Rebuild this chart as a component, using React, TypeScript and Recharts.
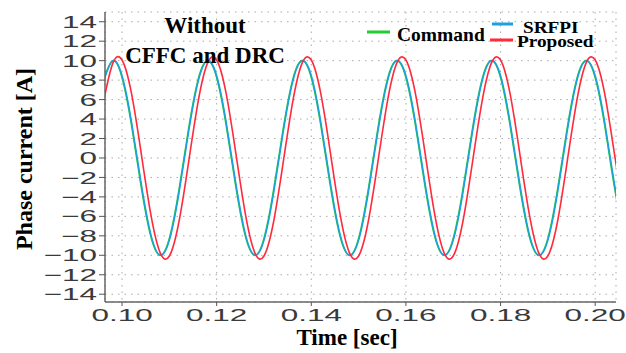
import React from "react";
import { LineChart, Line, XAxis, YAxis, CartesianGrid } from "recharts";

// sample times [s], every 2 ms
const time = [
  0.096, 0.098, 0.1, 0.102, 0.104, 0.106, 0.108, 0.11, 0.112, 0.114,
  0.116, 0.118, 0.12, 0.122, 0.124, 0.126, 0.128, 0.13, 0.132, 0.134,
  0.136, 0.138, 0.14, 0.142, 0.144, 0.146, 0.148, 0.15, 0.152, 0.154,
  0.156, 0.158, 0.16, 0.162, 0.164, 0.166, 0.168, 0.17, 0.172, 0.174,
  0.176, 0.178, 0.18, 0.182, 0.184, 0.186, 0.188, 0.19, 0.192, 0.194,
  0.196, 0.198, 0.2, 0.202, 0.204, 0.206,
];

// phase current [A]
const command = [
  7.9, 10.0, 8.27, 3.39, -2.79, -7.9, -10.0, -8.27, -3.39, 2.79,
  7.9, 10.0, 8.27, 3.39, -2.79, -7.9, -10.0, -8.27, -3.39, 2.79,
  7.9, 10.0, 8.27, 3.39, -2.79, -7.9, -10.0, -8.27, -3.39, 2.79,
  7.9, 10.0, 8.27, 3.39, -2.79, -7.9, -10.0, -8.27, -3.39, 2.79,
  7.9, 10.0, 8.27, 3.39, -2.79, -7.9, -10.0, -8.27, -3.39, 2.79,
  7.9, 10.0, 8.27, 3.39, -2.79, -7.9,
];

const srfpi = [
  7.7, 9.98, 8.44, 3.68, -2.49, -7.7, -9.98, -8.44, -3.68, 2.49,
  7.7, 9.98, 8.44, 3.68, -2.49, -7.7, -9.98, -8.44, -3.68, 2.49,
  7.7, 9.98, 8.44, 3.68, -2.49, -7.7, -9.98, -8.44, -3.68, 2.49,
  7.7, 9.98, 8.44, 3.68, -2.49, -7.7, -9.98, -8.44, -3.68, 2.49,
  7.7, 9.98, 8.44, 3.68, -2.49, -7.7, -9.98, -8.44, -3.68, 2.49,
  7.7, 9.98, 8.44, 3.68, -2.49, -7.7,
];

const proposed = [
  5.57, 9.67, 10.07, 6.63, 0.65, -5.57, -9.67, -10.07, -6.63, -0.65,
  5.57, 9.67, 10.07, 6.63, 0.65, -5.57, -9.67, -10.07, -6.63, -0.65,
  5.57, 9.67, 10.07, 6.63, 0.65, -5.57, -9.67, -10.07, -6.63, -0.65,
  5.57, 9.67, 10.07, 6.63, 0.65, -5.57, -9.67, -10.07, -6.63, -0.65,
  5.57, 9.67, 10.07, 6.63, 0.65, -5.57, -9.67, -10.07, -6.63, -0.65,
  5.57, 9.67, 10.07, 6.63, 0.65, -5.57,
];

const xTicks = [0.1, 0.12, 0.14, 0.16, 0.18, 0.2];
const yTicks = [-14, -12, -10, -8, -6, -4, -2, 0, 2, 4, 6, 8, 10, 12, 14];

const data = time.map((t, i) => ({
  t,
  command: command[i],
  srfpi: srfpi[i],
  proposed: proposed[i],
}));

const COLORS = { command: "#22cc33", srfpi: "#1e9fe0", proposed: "#ff2a3c" };
const serif = "'Liberation Serif', 'Times New Roman', serif";
const sans = "'Liberation Sans', Arial, sans-serif";

const fmtY = (v: number) => (v < 0 ? "\u2212" + Math.abs(v) : String(v));

const YTick = (props: any) => {
  const { x, y, payload } = props;
  return (
    <text
      transform={`translate(${x},${y}) scale(1.85,1)`}
      textAnchor="end"
      dy="0.36em"
      fontSize={17}
      fontFamily={sans}
      fill="#3a3a3a"
    >
      {fmtY(payload.value)}
    </text>
  );
};

const XTick = (props: any) => {
  const { x, y, payload } = props;
  return (
    <text
      transform={`translate(${x},${y}) scale(1.85,1)`}
      textAnchor="middle"
      dy={13}
      fontSize={17}
      fontFamily={sans}
      fill="#3a3a3a"
    >
      {Number(payload.value).toFixed(2)}
    </text>
  );
};

export default function App() {
  return (
    <div
      style={{
        position: "absolute",
        left: 0,
        top: 0,
        width: 626,
        height: 353,
        background: "#fff",
      }}
    >
      <LineChart
        width={626}
        height={353}
        data={data}
        margin={{ top: 12, right: 10, bottom: 21, left: 0 }}
      >
        <CartesianGrid stroke="#aaa" strokeDasharray="1.5 5" />
        <XAxis
          dataKey="t"
          type="number"
          domain={[0.0964, 0.2044]}
          ticks={xTicks}
          interval={0}
          allowDataOverflow
          height={30}
          tickSize={4}
          tick={<XTick />}
          axisLine={{ stroke: "#666", strokeWidth: 1.5 }}
          tickLine={{ stroke: "#555" }}
        />
        <XAxis
          xAxisId="top"
          orientation="top"
          dataKey="t"
          type="number"
          domain={[0.0964, 0.2044]}
          allowDataOverflow
          height={0}
          tick={false}
          tickLine={false}
          axisLine={{ stroke: "#999" }}
        />
        <YAxis
          type="number"
          domain={[-14.8, 15]}
          ticks={yTicks}
          interval={0}
          allowDataOverflow
          width={105}
          tickSize={6}
          tick={<YTick />}
          axisLine={{ stroke: "#666", strokeWidth: 1.5 }}
          tickLine={{ stroke: "#555" }}
        />
        <YAxis
          yAxisId="right"
          orientation="right"
          type="number"
          domain={[-14.8, 15]}
          allowDataOverflow
          width={0}
          tick={false}
          tickLine={false}
          axisLine={{ stroke: "#999" }}
        />
        <Line
          dataKey="command"
          type="natural"
          stroke={COLORS.command}
          strokeWidth={1.6}
          dot={false}
          isAnimationActive={false}
        />
        <Line
          dataKey="srfpi"
          type="natural"
          stroke={COLORS.srfpi}
          strokeWidth={1.6}
          dot={false}
          isAnimationActive={false}
        />
        <Line
          dataKey="proposed"
          type="natural"
          stroke={COLORS.proposed}
          strokeWidth={1.6}
          dot={false}
          isAnimationActive={false}
        />
      </LineChart>

      {/* annotations, axis titles and legend */}
      <svg
        width={626}
        height={353}
        style={{ position: "absolute", left: 0, top: 0, pointerEvents: "none" }}
      >
        <g fontFamily={serif} fontWeight="bold" fill="#000">
          <text x={205} y={33} fontSize={23} textAnchor="middle">
            Without
          </text>
          <text x={205} y={63} fontSize={23} textAnchor="middle">
            CFFC and DRC
          </text>
          <text x={347} y={345} fontSize={23} textAnchor="middle">
            Time [sec]
          </text>
          <text
            transform="translate(32,159) rotate(-90)"
            fontSize={24}
            textAnchor="middle"
          >
            Phase current [A]
          </text>

          <line x1={367} y1={32} x2={390} y2={32} stroke={COLORS.command} strokeWidth={3} />
          <text x={397} y={41} fontSize={19.5}>
            Command
          </text>
          <line x1={492} y1={24} x2={513} y2={24} stroke={COLORS.srfpi} strokeWidth={3} />
          <text transform="translate(523,33) scale(1.1,1)" fontSize={17.5}>
            SRFPI
          </text>
          <line x1={490} y1={40} x2={513} y2={40} stroke={COLORS.proposed} strokeWidth={3} />
          <text transform="translate(517,47) scale(1.1,1)" fontSize={17.5}>
            Proposed
          </text>
        </g>
      </svg>
    </div>
  );
}
